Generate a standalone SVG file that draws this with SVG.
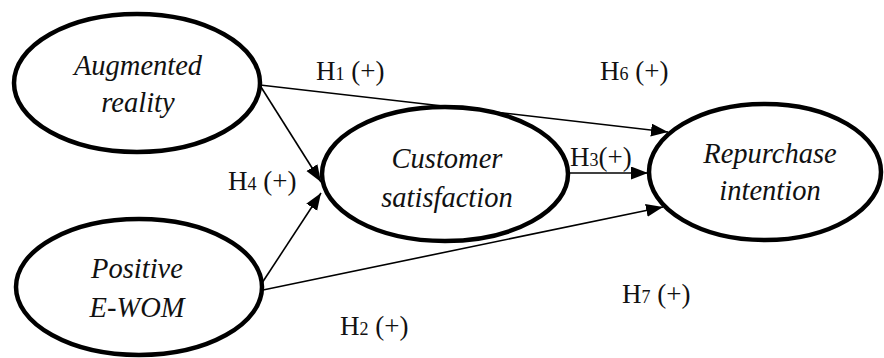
<svg xmlns="http://www.w3.org/2000/svg" width="884" height="358" viewBox="0 0 884 358">
<style>
.node ellipse{fill:#fff;stroke:#000;stroke-width:4.5}
.nt{font-family:"Liberation Serif","Times New Roman",serif;font-style:italic;font-size:28.5px;fill:#111;text-anchor:middle}
.lb{font-family:"Liberation Serif","Times New Roman",serif;font-size:27px;fill:#111}
.sub{font-size:18px}
.conn line{stroke:#000;stroke-width:1.6;fill:none}
</style>
<defs>
<marker id="ah" markerUnits="userSpaceOnUse" markerWidth="18" markerHeight="14" refX="17" refY="6.5" orient="auto">
<path d="M0,0 L17,6.5 L0,13 z" fill="#000"/>
</marker>
</defs>
<g id="connectors" class="conn">
<line x1="260" y1="85" x2="668" y2="132" marker-end="url(#ah)"/>
<line x1="261" y1="87" x2="321" y2="182" marker-end="url(#ah)"/>
<line x1="262" y1="283" x2="321" y2="193" marker-end="url(#ah)"/>
<line x1="263" y1="290" x2="663" y2="207" marker-end="url(#ah)"/>
<line x1="568" y1="173" x2="648" y2="173" marker-end="url(#ah)"/>
</g>
<g id="node-ar" class="node">
<ellipse cx="137" cy="83" rx="123" ry="69"/>
<text class="nt" x="138" y="75">Augmented</text>
<text class="nt" x="138" y="112">reality</text>
</g>
<g id="node-ewom" class="node">
<ellipse cx="139" cy="287" rx="123" ry="68"/>
<text class="nt" x="137" y="278">Positive</text>
<text class="nt" x="137" y="317">E-WOM</text>
</g>
<g id="node-cs" class="node">
<ellipse cx="445" cy="174" rx="123" ry="67"/>
<text class="nt" x="447" y="168">Customer</text>
<text class="nt" x="447" y="207">satisfaction</text>
</g>
<g id="node-ri" class="node">
<ellipse cx="765" cy="172" rx="116" ry="68"/>
<text class="nt" x="770" y="163">Repurchase</text>
<text class="nt" x="770" y="200">intention</text>
</g>
<g id="labels">
<text class="lb" x="316" y="80">H<tspan class="sub">1</tspan> (+)</text>
<text class="lb" x="600" y="80">H<tspan class="sub">6</tspan> (+)</text>
<text class="lb" x="570" y="166">H<tspan class="sub">3</tspan>(+)</text>
<text class="lb" x="228" y="190">H<tspan class="sub">4</tspan> (+)</text>
<text class="lb" x="340" y="335">H<tspan class="sub">2</tspan> (+)</text>
<text class="lb" x="622" y="303">H<tspan class="sub">7</tspan> (+)</text>
</g>
</svg>
